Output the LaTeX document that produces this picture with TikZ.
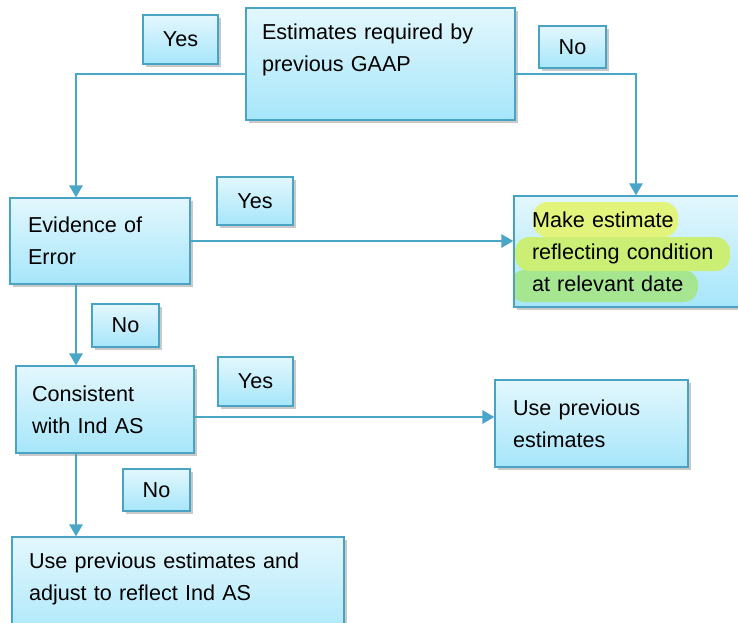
\documentclass[tikz,border=0pt]{standalone}
\usepackage{fontspec}
\setmainfont{Liberation Sans}
\usetikzlibrary{arrows.meta,shadows}
\definecolor{boxline}{HTML}{4BA3C3}
\definecolor{boxtop}{HTML}{E3F7FD}
\definecolor{boxbot}{HTML}{A6E6FA}
\definecolor{flowcol}{HTML}{4AA6C6}
\definecolor{hlone}{HTML}{E2F47C}
\definecolor{hltwo}{HTML}{CBEF74}
\definecolor{hlthree}{HTML}{A6E690}
\begin{document}
\begin{tikzpicture}[x=0.75pt,y=-0.75pt,
    box/.style={draw=boxline,line width=1pt,top color=boxtop,bottom color=boxbot,
      drop shadow={shadow xshift=2pt,shadow yshift=-2.5pt,opacity=0.3,fill=black!70},
      align=left,font=\fontsize{16.2pt}{24pt}\selectfont,inner ysep=0pt},
    tag/.style={box,align=center,inner sep=0pt},
    flow/.style={draw=flowcol,line width=1.5pt,-{Triangle[length=9pt,width=10pt]}}]
  \useasboundingbox (0,0) rectangle (738,622);
  \clip (0,0) rectangle (738,622);
  %%%%% boxes
  \node[box,text width=177.75pt,inner xsep=12pt,minimum height=84pt] (top) at (380.5,64)
    {Estimates required by\\previous GAAP\\\mbox{}};
  \node[box,text width=108pt,inner xsep=13.5pt,minimum height=64.5pt] (evid) at (100,241)
    {Evidence of\\Error};
  \node[box,text width=157.5pt,inner xsep=13.5pt,minimum height=83.25pt,
    path picture={
      \fill[hlthree,rounded corners=11pt] ([shift={(-4,74)}]path picture bounding box.north west)
        rectangle ([shift={(184,106)}]path picture bounding box.north west);
      \fill[hltwo,rounded corners=11pt] ([shift={(1,41)}]path picture bounding box.north west)
        rectangle ([shift={(216,75)}]path picture bounding box.north west);
      \fill[hlone,rounded corners=11pt] ([shift={(19,6)}]path picture bounding box.north west)
        rectangle ([shift={(164,41)}]path picture bounding box.north west);
    }] (make) at (637,251.5)
    {Make estimate\\reflecting condition\\at relevant date};
  \node[box,text width=109.5pt,inner xsep=12pt,minimum height=65.25pt] (cons) at (105,409.5)
    {Consistent\\with Ind AS};
  \node[box,text width=117.75pt,inner xsep=13.5pt,minimum height=65.25pt] (usep) at (591.5,423.5)
    {Use previous\\estimates};
  \node[box,text width=223.5pt,inner xsep=12.75pt,minimum height=84pt] (final) at (178,593)
    {Use previous estimates and\\adjust to reflect Ind AS\\\mbox{}};
  %%%%% yes / no tags
  \node[tag,minimum width=56.25pt,minimum height=36.75pt] (yesa) at (180.5,39.5) {Yes};
  \node[tag,minimum width=50.25pt,minimum height=31.5pt] (noa) at (572.5,47) {No};
  \node[tag,minimum width=57pt,minimum height=36pt] (yesb) at (255,201) {Yes};
  \node[tag,minimum width=50.25pt,minimum height=32.25pt] (nob) at (125.5,325.5) {No};
  \node[tag,minimum width=56.25pt,minimum height=36.75pt] (yesc) at (255.5,381.5) {Yes};
  \node[tag,minimum width=50.25pt,minimum height=31.5pt] (noc) at (156.5,490) {No};
  %%%%% connectors
  \coordinate (trunk) at (76,74);
  \coordinate (branch) at (636,74);
  \coordinate (userow) at (0,417);
  \draw[flow] (top.west |- trunk) -| (evid.north -| trunk);
  \draw[flow] (top.east |- branch) -| (make.north -| branch);
  \draw[flow] (evid.east) -- (evid.east -| make.west);
  \draw[flow] (evid.south -| trunk) -- (cons.north -| trunk);
  \draw[flow] (cons.east |- userow) -- (usep.west |- userow);
  \draw[flow] (cons.south -| trunk) -- (final.north -| trunk);
\end{tikzpicture}
\end{document}
